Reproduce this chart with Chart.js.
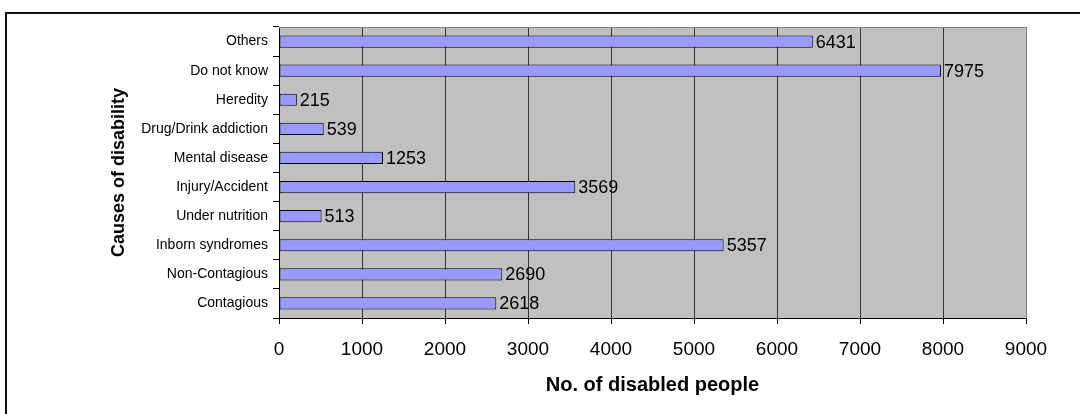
<!DOCTYPE html>
<html>
<head>
<meta charset="utf-8">
<script src="https://cdn.jsdelivr.net/npm/chart.js@4"></script>
<style>
  html, body { margin: 0; padding: 0; background: #fff; }
  #wrap { position: relative; width: 1080px; height: 414px; overflow: hidden; }
  #frame { position: absolute; left: 5px; top: 12px; width: 1200px; height: 600px; border-left: 2px solid #111; border-top: 2px solid #111; }
  canvas { position: absolute; left: 0; top: 0; }
</style>
</head>
<body>
<div id="wrap">
  <div id="frame"></div>
  <canvas id="chart" width="1080" height="414"></canvas>
</div>
<script>
// causes of disability, top to bottom as in the picture
const categories = ["Others", "Do not know", "Heredity", "Drug/Drink addiction", "Mental disease",
    "Injury/Accident", "Under nutrition", "Inborn syndromes", "Non-Contagious", "Contagious"];
const disabled = [6431, 7975, 215, 539, 1253, 3569, 513, 5357, 2690, 2618];
const xTicks = [0, 1000, 2000, 3000, 4000, 5000, 6000, 7000, 8000, 9000];

const FONT = "Arial, 'Liberation Sans', sans-serif";

// grey plot background + thin grey frame on top/right
const plotBack = {
    id: 'plotBack',
    beforeDraw(chart) {
        const { ctx, chartArea: a } = chart;
        ctx.save();
        ctx.fillStyle = '#C0C0C0';
        ctx.fillRect(a.left, a.top, a.right - a.left, a.bottom - a.top);
        ctx.restore();
    },
    afterDatasetsDraw(chart) {
        const { ctx, chartArea: a } = chart;
        ctx.save();
        ctx.strokeStyle = '#808080';
        ctx.lineWidth = 1;
        ctx.beginPath();
        ctx.moveTo(a.left, a.top + 0.5);
        ctx.lineTo(a.right + 0.5, a.top + 0.5);
        ctx.lineTo(a.right + 0.5, a.bottom);
        ctx.stroke();
        ctx.restore();
    }
};

// value labels at bar ends
const valueLabels = {
    id: 'valueLabels',
    afterDatasetsDraw(chart) {
        const { ctx } = chart;
        const meta = chart.getDatasetMeta(0);
        ctx.save();
        ctx.font = '18px ' + FONT;
        ctx.fillStyle = '#000';
        ctx.textAlign = 'left';
        ctx.textBaseline = 'middle';
        meta.data.forEach((bar, i) => {
            ctx.fillText(String(disabled[i]), bar.x + 3, bar.y + 1);
        });
        ctx.restore();
    }
};

new Chart(document.getElementById('chart'), {
    type: 'bar',
    data: {
        labels: categories,
        datasets: [{
            data: disabled,
            backgroundColor: '#9999FF',
            borderColor: '#000',
            borderWidth: 1,
            borderSkipped: false,
            barPercentage: 0.42,
            categoryPercentage: 1
        }]
    },
    options: {
        indexAxis: 'y',
        responsive: false,
        animation: false,
        layout: { padding: { left: 108, top: 27, right: 54, bottom: 0 } },
        plugins: { legend: { display: false }, tooltip: { enabled: false } },
        scales: {
            x: {
                min: 0,
                max: 9000,
                afterBuildTicks: (s) => { s.ticks = xTicks.map(v => ({ value: v })); },
                afterFit: (s) => { s.height = 96; },
                grid: { color: '#333', lineWidth: 1, tickLength: 6, tickColor: '#000' },
                border: { color: '#000', width: 1 },
                ticks: {
                    color: '#000', font: { family: FONT, size: 19 }, padding: 14,
                    callback: (v) => String(v)
                },
                title: {
                    display: true, text: 'No. of disabled people', color: '#000',
                    font: { family: FONT, size: 20, weight: 'bold' }, padding: { top: 0, bottom: 17 }
                }
            },
            y: {
                afterFit: (s) => { s.width = 171; },
                grid: { drawOnChartArea: false, offset: true, tickLength: 6, tickColor: '#000' },
                border: { color: '#000', width: 1 },
                ticks: { color: '#000', font: { family: FONT, size: 14 }, padding: 5 },
                title: {
                    display: true, text: 'Causes of disability', color: '#000',
                    font: { family: FONT, size: 18, weight: 'bold' }, padding: 0
                }
            }
        }
    },
    plugins: [plotBack, valueLabels]
});
</script>
</body>
</html>
